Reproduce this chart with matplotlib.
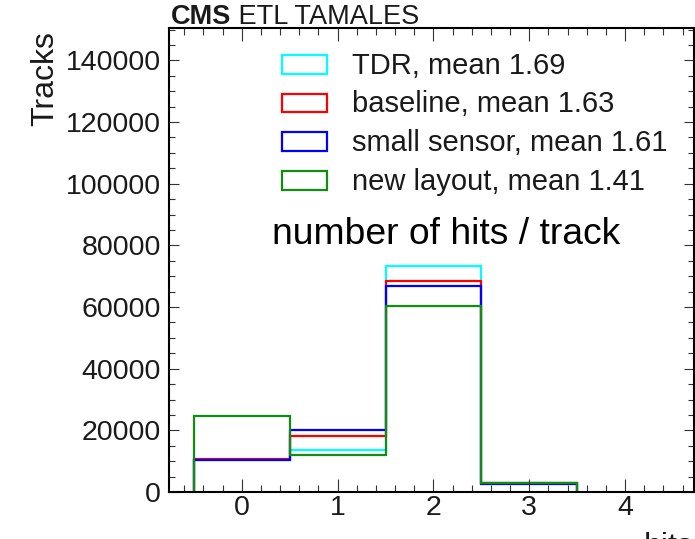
import matplotlib
matplotlib.use("Agg")
import matplotlib.pyplot as plt
from matplotlib.patches import Rectangle
from matplotlib.ticker import MultipleLocator
import numpy as np

# ---------------- data ----------------
hits = [0, 1, 2, 3]
tdr = [10300, 13600, 73200, 2900]
baseline = [10600, 18200, 68300, 2900]
small_sensor = [10400, 20000, 66800, 2700]
new_layout = [24800, 12000, 60300, 2900]

series_names = ["TDR", "baseline", "small sensor", "new layout"]
series_means = ["1.69", "1.63", "1.61", "1.41"]
series_colors = ["#00ffff", "#ff0000", "#0000ff", "#128c12"]
series_values = [tdr, baseline, small_sensor, new_layout]

title_bold = "CMS"
title_rest = " ETL TAMALES"
y_title = "Tracks"
x_title = "hits"
annotation = "number of hits / track"

# ---------------- figure ----------------
plt.rcParams['font.family'] = ['Liberation Sans', 'DejaVu Sans']
W, H = 695, 539
fig = plt.figure(figsize=(W / 100, H / 100), dpi=100)

ax_l, ax_r, ax_t, ax_b = 169, 694, 28, 492
ax = fig.add_axes([ax_l / W, (H - ax_b) / H, (ax_r - ax_l) / W, (ax_b - ax_t) / H])

edges = np.concatenate([np.array(hits) - 0.5, [hits[-1] + 0.5]])
for vals, col in zip(series_values, series_colors):
    ax.stairs(vals, edges, color=col, lw=1.6, baseline=0)

ax.set_xlim(-0.76, 4.72)
ax.set_ylim(0, 150500)

ax.xaxis.set_major_locator(MultipleLocator(1))
ax.xaxis.set_minor_locator(MultipleLocator(0.2))
ax.yaxis.set_major_locator(MultipleLocator(20000))
ax.yaxis.set_minor_locator(MultipleLocator(5000))

ax.tick_params(axis='both', which='both', direction='in', top=True, right=True,
               color='#333333', width=0.8)
ax.tick_params(axis='x', which='major', length=9.5, pad=2, labelsize=20.5)
ax.tick_params(axis='x', which='minor', length=5)
ax.tick_params(axis='y', which='major', length=7.5, pad=6, labelsize=20.5)
ax.tick_params(axis='y', which='minor', length=4.5)
for s in ax.spines.values():
    s.set_linewidth(1.5)
    s.set_color('black')
for lab in ax.get_xticklabels() + ax.get_yticklabels():
    lab.set_color('#1a1a1a')

# y title
fig.text(53 / W, (H - 31) / H, y_title, rotation=90, rotation_mode='anchor',
         ha='right', va='baseline', fontsize=23, color='#1a1a1a')
# x title (mostly outside canvas, as in reference)
fig.text(694 / W, (H - 555) / H, x_title, ha='right', va='baseline',
         fontsize=23, color='#1a1a1a')

# title
t1 = fig.text(171 / W, (H - 24) / H, title_bold, ha='left', va='baseline',
              fontsize=19.5, fontweight='bold', color='#1a1a1a')
fig.canvas.draw()
bb = t1.get_window_extent()
fig.text(bb.x1 / W, (H - 24) / H, title_rest, ha='left', va='baseline',
         fontsize=19.5, color='#1a1a1a')

# legend (manual, ROOT style boxes)
def ax_x(px):
    return (px - ax_l) / (ax_r - ax_l)

def ax_y(py):
    return (ax_b - py) / (ax_b - ax_t)

centers = [64.5, 103, 141.5, 180.5]
for name, mean, col, yc in zip(series_names, series_means, series_colors, centers):
    ax.add_patch(Rectangle((ax_x(282), ax_y(yc + 9)), 45 / (ax_r - ax_l), 18 / (ax_b - ax_t),
                           transform=ax.transAxes, fill=False, edgecolor=col, lw=1.6))
    ax.text(ax_x(352), ax_y(yc + 9.5), f"{name}, mean {mean}", transform=ax.transAxes,
            ha='left', va='baseline', fontsize=21, color='#1a1a1a')

ax.text(ax_x(272), ax_y(244), annotation, transform=ax.transAxes,
        ha='left', va='baseline', fontsize=26.8, color='black')

fig.savefig("out.png", dpi=100)
